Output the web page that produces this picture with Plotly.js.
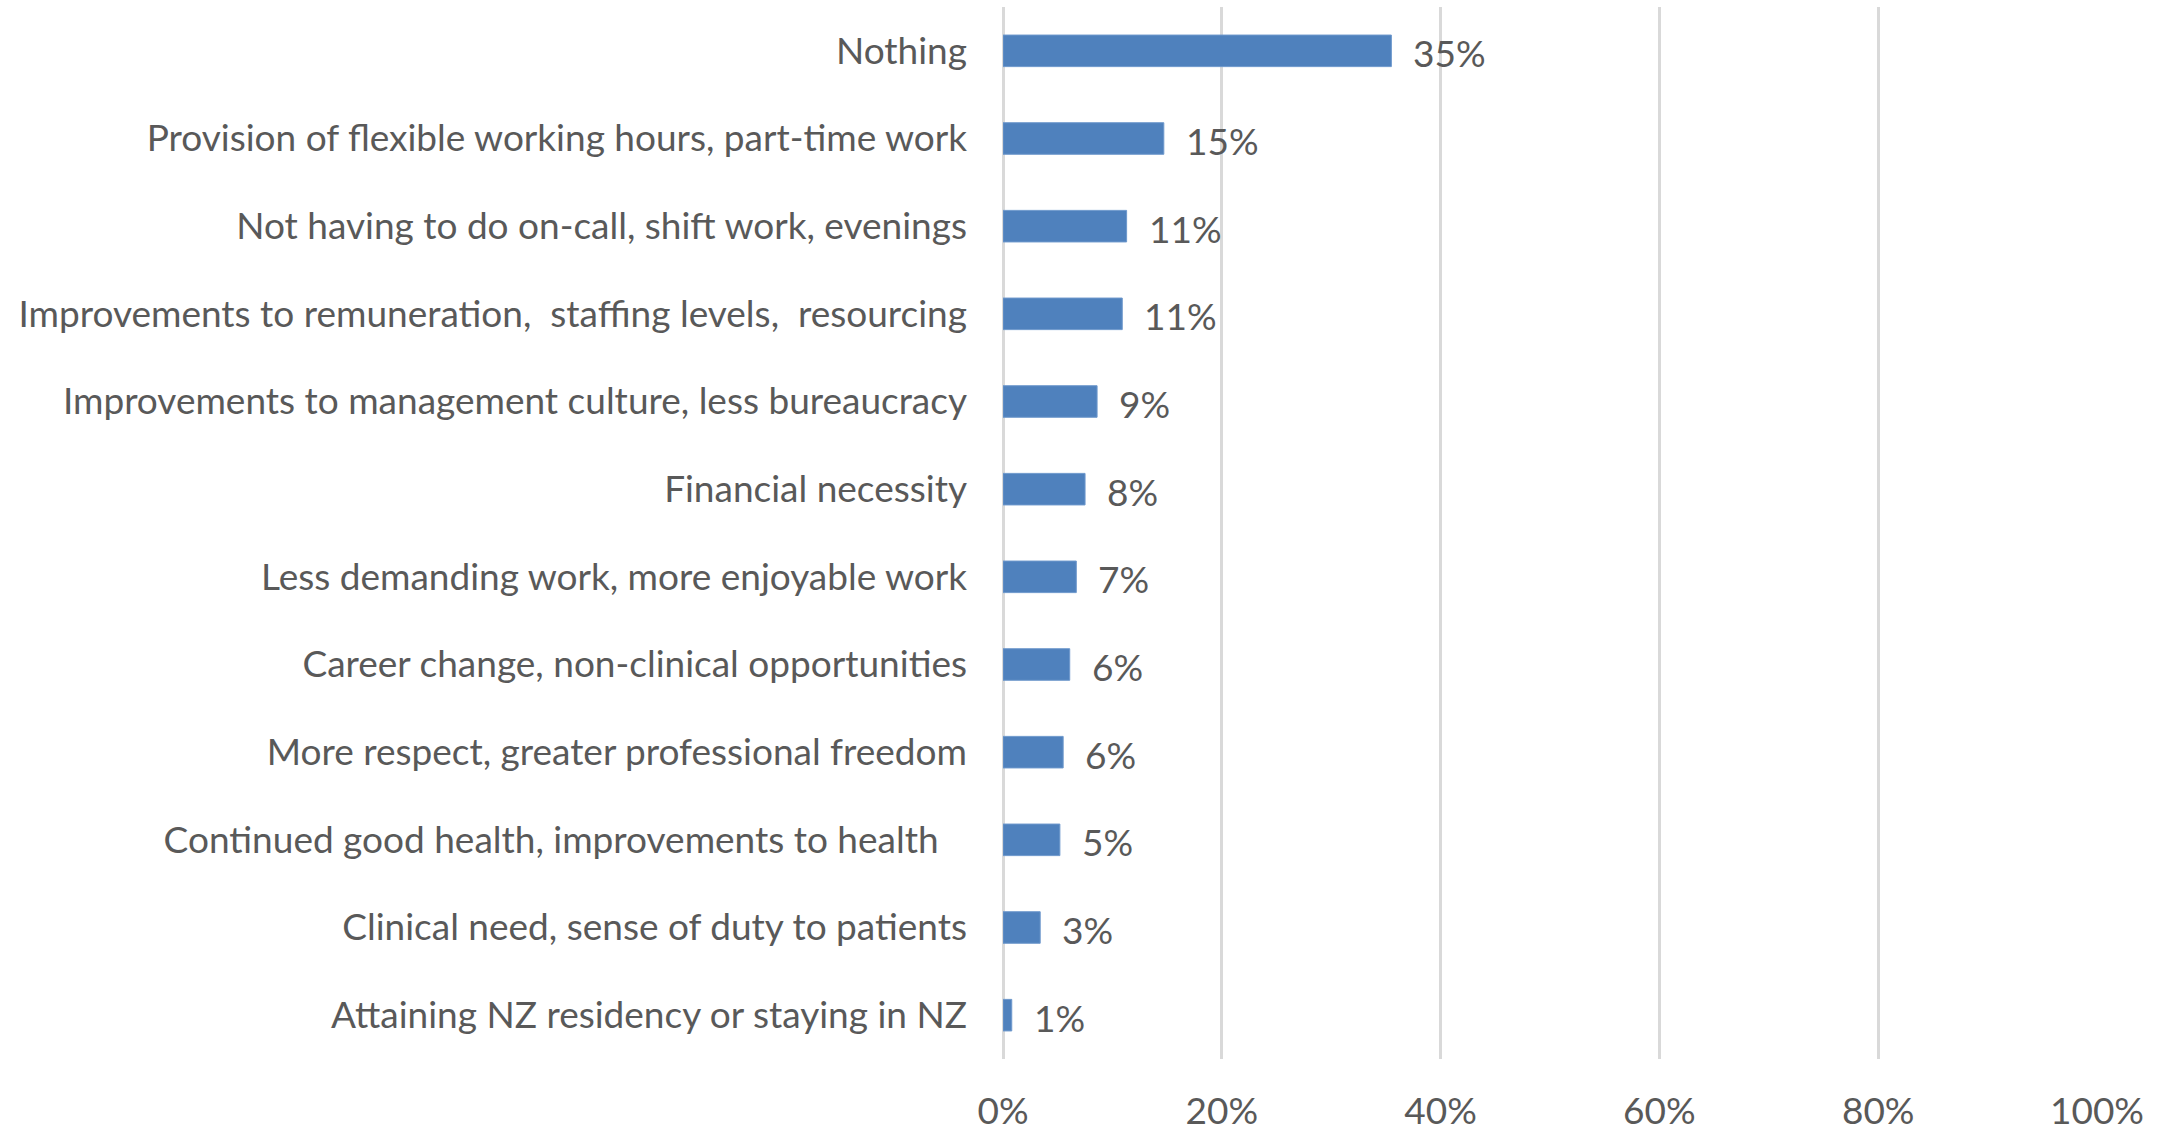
<!DOCTYPE html>
<html>
<head>
<meta charset="utf-8">
<script src="https://cdn.plot.ly/plotly-3.0.1.min.js"></script>
<style>html,body{margin:0;padding:0;background:#fff;}#chart{width:2165px;height:1131px;}</style>
</head>
<body>
<div id="chart"></div>
<script>
const categories = [
  "Nothing",
  "Provision of flexible working hours, part-time work",
  "Not having to do on-call, shift work, evenings",
  "Improvements to remuneration, \u00a0staffing levels, \u00a0resourcing",
  "Improvements to management culture, less bureaucracy",
  "Financial necessity",
  "Less demanding work, more enjoyable work",
  "Career change, non-clinical opportunities",
  "More respect, greater professional freedom",
  "Continued good health, improvements to health\u00a0\u00a0\u00a0",
  "Clinical need, sense of duty to patients",
  "Attaining NZ residency or staying in NZ"
];
const values = [35.5, 14.7, 11.3, 10.9, 8.6, 7.5, 6.7, 6.1, 5.5, 5.2, 3.4, 0.8];
const valueLabels = ["35%", "15%", "11%", "11%", "9%", "8%", "7%", "6%", "6%", "5%", "3%", "1%"];
const xTickVals = [0, 20, 40, 60, 80, 100];
const xTickText = ["0%", "20%", "40%", "60%", "80%", "100%"];

const FONT = "Lato, 'Open Sans', sans-serif";
const TXT = "#595959";
const FS = 37;

const trace = {
  type: "bar",
  orientation: "h",
  y: categories,
  x: values,
  marker: {color: "#4F81BD", line: {color: "#6E98CC", width: 1}},
  hoverinfo: "none"
};

const annotations = categories.map((c, i) => ({
  x: values[i], y: c, xref: "x", yref: "y",
  text: valueLabels[i], showarrow: false,
  xanchor: "left", yanchor: "middle", xshift: 20, yshift: -2,
  font: {family: FONT, size: FS, color: TXT}
}));

const layout = {
  width: 2165, height: 1131,
  margin: {l: 1003, r: 68, t: 7, b: 72},
  paper_bgcolor: "#fff", plot_bgcolor: "#fff",
  showlegend: false,
  bargap: 0.64,
  xaxis: {
    range: [0, 100],
    tickvals: xTickVals, ticktext: xTickText,
    showgrid: true, gridcolor: "#D9D9D9", gridwidth: 3,
    zeroline: true, zerolinecolor: "#D9D9D9", zerolinewidth: 3,
    showline: false, ticks: "",
    ticklabelstandoff: 27,
    tickfont: {family: FONT, size: FS, color: TXT}
  },
  yaxis: {
    type: "category",
    categoryorder: "array", categoryarray: categories,
    autorange: "reversed",
    showgrid: false, zeroline: false, showline: false, ticks: "",
    ticklabelstandoff: 35,
    tickfont: {family: FONT, size: FS, color: TXT}
  },
  annotations: annotations
};

Plotly.newPlot("chart", [trace], layout, {displayModeBar: false, staticPlot: true});
</script>
</body>
</html>
